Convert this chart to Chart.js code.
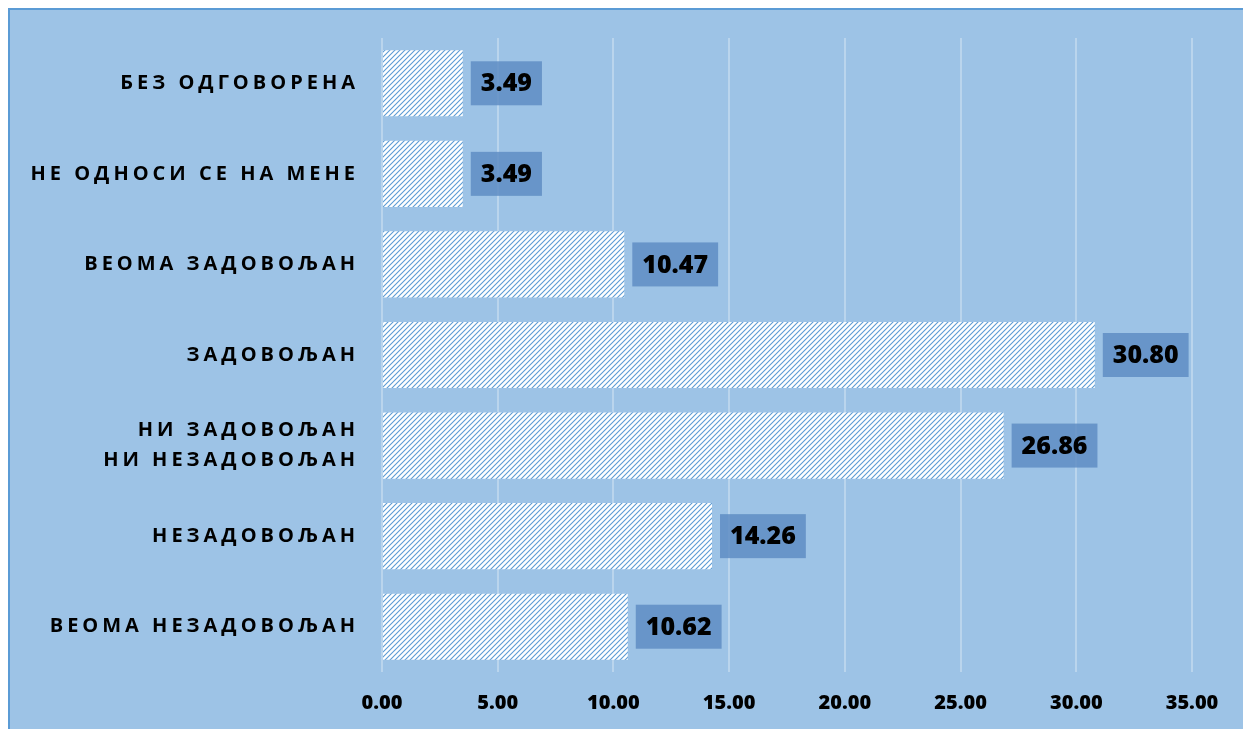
<!DOCTYPE html>
<html>
<head>
<meta charset="utf-8">
<script src="https://cdn.jsdelivr.net/npm/chart.js@4/dist/chart.umd.min.js"></script>
<style>
  html, body { margin: 0; padding: 0; background: #fff; width: 1243px; height: 729px; overflow: hidden; }
  #panel { position: absolute; left: 8px; top: 8px; right: 0; bottom: 0;
           background: #9DC3E6; border-left: 2px solid #5B9BD5; border-top: 2px solid #5B9BD5; }
  #myChart { position: absolute; left: 0; top: 0; }
</style>
</head>
<body>
<div id="panel"></div>
<canvas id="myChart" width="1243" height="729"></canvas>
<script>
// categories, top to bottom
const labels = [
    'БЕЗ ОДГОВОРЕНА',
    'НЕ ОДНОСИ СЕ НА МЕНЕ',
    'ВЕОМА ЗАДОВОЉАН',
    'ЗАДОВОЉАН',
    ['НИ ЗАДОВОЉАН', 'НИ НЕЗАДОВОЉАН'],
    'НЕЗАДОВОЉАН',
    'ВЕОМА НЕЗАДОВОЉАН'
];
const values = [3.49, 3.49, 10.47, 30.80, 26.86, 14.26, 10.62];
const xTicks = [0, 5, 10, 15, 20, 25, 30, 35];

// hatched fill like the excel pattern
function makeHatch() {
    var c = document.createElement('canvas');
    c.width = 5;
    c.height = 5;
    var g = c.getContext('2d');
    g.fillStyle = '#ffffff';
    g.fillRect(0, 0, 5, 5);
    g.strokeStyle = '#5B9BD5';
    g.lineWidth = 1.1;
    g.beginPath();
    g.moveTo(-1, 6); g.lineTo(6, -1);
    g.moveTo(-1, 1); g.lineTo(1, -1);
    g.moveTo(4, 6); g.lineTo(6, 4);
    g.stroke();
    return g.createPattern(c, 'repeat');
}

const ctx = document.getElementById('myChart').getContext('2d');
const hatch = makeHatch();

// spaced-out category labels
const spacedLabels = {
    id: 'spacedLabels',
    afterUpdate(chart) {
        var s = chart.scales.y;
        if (s._spaced) return;
        var orig = s.drawLabels;
        s.drawLabels = function (area) {
            this.ctx.save();
            this.ctx.letterSpacing = '4px';
            orig.call(this, area);
            this.ctx.restore();
        };
        s._spaced = true;
    }
};

// value boxes next to the bars
const valueBoxes = {
    id: 'valueBoxes',
    afterDatasetsDraw(chart) {
        var c = chart.ctx;
        var meta = chart.getDatasetMeta(0);
        c.save();
        c.font = '800 25px "Open Sans"';
        c.textAlign = 'center';
        c.textBaseline = 'middle';
        meta.data.forEach(function (bar, i) {
            var txt = values[i].toFixed(2);
            var w = c.measureText(txt).width + 20;
            var h = 44;
            var x0 = bar.x + 8;
            var y0 = bar.y - h / 2;
            c.fillStyle = 'rgba(95,141,195,0.85)';
            c.fillRect(x0, y0, w, h);
            c.fillStyle = '#000';
            c.fillText(txt, x0 + w / 2, bar.y + 1);
        });
        c.restore();
    }
};

const myChart = new Chart(ctx, {
    type: 'bar',
    data: {
        labels: labels,
        datasets: [{
            data: values,
            backgroundColor: hatch,
            borderWidth: 0,
            categoryPercentage: 1,
            barPercentage: 0.73
        }]
    },
    options: {
        indexAxis: 'y',
        responsive: false,
        animation: false,
        layout: { padding: { left: 0, right: 51, top: 37, bottom: 0 } },
        plugins: {
            legend: { display: false },
            tooltip: { enabled: false }
        },
        scales: {
            x: {
                min: 0,
                max: 35,
                afterBuildTicks: function (axis) {
                    axis.ticks = xTicks.map(function (v) { return { value: v }; });
                },
                afterFit: function (axis) { axis.height = 57; },
                grid: { color: 'rgba(255,255,255,0.3)', lineWidth: 2, drawTicks: false },
                border: { display: false },
                ticks: {
                    padding: 19,
                    color: '#000',
                    font: { family: 'Open Sans', weight: '800', size: 20 },
                    callback: function (v) { return Number(v).toFixed(2); }
                }
            },
            y: {
                afterFit: function (axis) { axis.width = 382; },
                grid: { display: false, drawTicks: false },
                border: { display: false },
                ticks: {
                    padding: 23,
                    autoSkip: false,
                    color: '#000',
                    font: { family: 'Open Sans', weight: 'bold', size: 20, lineHeight: 1.5 }
                }
            }
        }
    },
    plugins: [spacedLabels, valueBoxes]
});
</script>
</body>
</html>
